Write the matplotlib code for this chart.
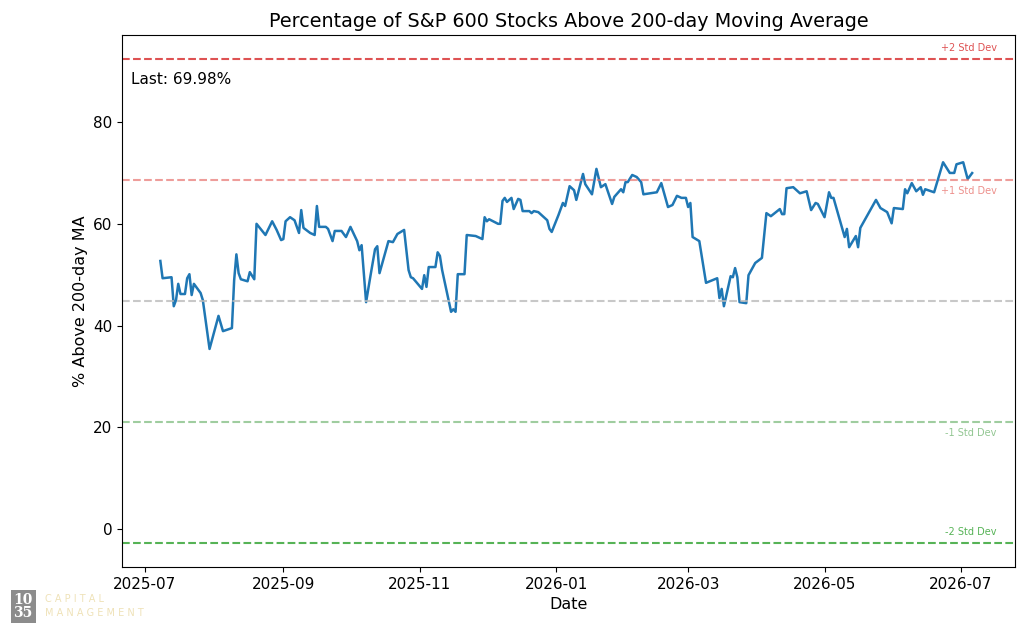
import matplotlib
matplotlib.use("Agg")
import matplotlib.pyplot as plt
import matplotlib.dates as mdates
import pandas as pd

start_date = "2025-07-01"
day_offsets = [7, 8, 12, 13, 14, 15, 16, 18, 19, 20, 21, 22, 25, 26, 29, 33, 35, 39, 40, 41,
               42, 43, 46, 47, 49, 50, 54, 57, 59, 61, 62, 63, 65, 67, 69, 70, 71, 74, 76, 77,
               78, 81, 82, 84, 85, 88, 90, 92, 95, 96, 97, 99, 101, 103, 104, 105, 109, 111, 113, 116,
               118, 119, 120, 124, 125, 126, 127, 130, 131, 132, 133, 137, 138, 139, 140, 143, 144, 148, 151, 152,
               153, 154, 158, 159, 160, 161, 162, 164, 165, 167, 168, 169, 172, 173, 174, 176, 178, 180, 181, 182,
               185, 187, 188, 190, 192, 193, 196, 197, 200, 202, 204, 206, 209, 210, 213, 214, 215, 216, 218, 220,
               222, 223, 229, 231, 234, 236, 238, 240, 242, 243, 244, 245, 248, 251, 256, 257, 258, 259, 262, 263,
               264, 265, 266, 269, 270, 273, 276, 278, 280, 284, 285, 286, 287, 290, 293, 296, 298, 300, 301, 304,
               306, 307, 308, 313, 314, 315, 318, 319, 320, 327, 329, 332, 334, 335, 339, 340, 341, 343, 345, 347,
               348, 349, 353, 357, 360, 362, 363, 366, 368, 370]
pct_above = [52.7, 49.3, 49.5, 43.8, 45.0, 48.2, 46.2, 46.2, 49.3, 50.1, 46.0, 48.2, 46.4, 45.0, 35.4, 41.9, 38.9, 39.5, 48.9, 54.0,
             50.3, 49.1, 48.7, 50.5, 49.1, 60.0, 57.8, 60.5, 58.8, 56.8, 57.0, 60.5, 61.3, 60.7, 58.2, 62.7, 59.2, 58.2, 57.8, 63.5,
             59.4, 59.4, 59.0, 56.6, 58.6, 58.6, 57.4, 59.4, 56.6, 54.8, 55.8, 44.6, 49.9, 55.0, 55.6, 50.3, 56.6, 56.4, 58.0, 58.8,
             50.9, 49.5, 49.3, 47.2, 49.9, 47.6, 51.5, 51.5, 54.4, 53.7, 50.9, 42.7, 43.2, 42.7, 50.1, 50.1, 57.8, 57.6, 57.0, 61.3,
             60.5, 60.9, 60.0, 60.0, 64.5, 65.1, 64.3, 65.1, 62.9, 64.9, 64.7, 62.5, 62.5, 62.1, 62.5, 62.3, 61.5, 60.7, 59.0, 58.4,
             61.7, 64.1, 63.5, 67.4, 66.6, 64.7, 69.8, 67.8, 65.8, 70.8, 67.2, 67.8, 63.9, 65.3, 66.8, 66.2, 68.2, 68.2, 69.6, 69.2,
             68.2, 65.8, 66.2, 68.0, 63.3, 63.7, 65.5, 65.1, 65.1, 63.3, 64.1, 57.4, 56.6, 48.4, 49.3, 45.4, 47.2, 43.8, 49.7, 49.5,
             51.3, 49.5, 44.6, 44.4, 49.9, 52.3, 53.3, 62.1, 61.5, 62.9, 61.9, 61.9, 67.0, 67.2, 66.0, 66.4, 62.7, 64.1, 63.9, 61.3,
             66.2, 65.1, 65.1, 57.4, 59.0, 55.4, 57.6, 55.4, 59.2, 64.7, 63.1, 62.3, 60.1, 63.1, 62.9, 66.8, 66.0, 68.0, 66.4, 67.2,
             65.7, 66.8, 66.2, 72.1, 70.0, 70.0, 71.7, 72.1, 68.8, 69.98]

mean_val = 44.8
std_val = 23.8
band_labels = ["+2 Std Dev", "+1 Std Dev", "-1 Std Dev", "-2 Std Dev"]
band_mults = [2, 1, -1, -2]
band_colors = ["#d62728", "#e8746f", "#77b877", "#2ca02c"]

dates = pd.to_datetime(start_date) + pd.to_timedelta(day_offsets, unit="D")

fig = plt.figure(figsize=(10.28, 6.38), dpi=100)
ax = fig.add_axes([0.119, 0.111, 0.868, 0.834])
ax.plot(dates, pct_above, color="#1f77b4", lw=1.8)

ax.axhline(mean_val, color="#bbbbbb", ls="--", lw=1.5, alpha=0.8)
trans = ax.get_yaxis_transform()
for lab, m, c in zip(band_labels, band_mults, band_colors):
    y = mean_val + m * std_val
    ax.axhline(y, color=c, ls="--", lw=1.5, alpha=0.8 if abs(m) == 2 else 0.7)
    va = "bottom" if m in (2, -2) else "top"
    off = 1.2 if va == "bottom" else -1.2
    ax.text(0.98, y + off, lab, transform=trans, ha="right", va=va, fontsize=7, color=c, alpha=0.8)

ax.text(0.01, 0.93, f"Last: {pct_above[-1]:.2f}%", transform=ax.transAxes, fontsize=11, va="top")

ax.set_xlim(pd.to_datetime(start_date) - pd.Timedelta(days=10), pd.to_datetime(start_date) + pd.Timedelta(days=389))
ax.set_ylim(-7.5, 97.1)
ax.xaxis.set_major_locator(mdates.MonthLocator(bymonth=[1, 3, 5, 7, 9, 11]))
ax.xaxis.set_major_formatter(mdates.DateFormatter("%Y-%m"))
ax.tick_params(labelsize=11)
ax.set_title("Percentage of S&P 600 Stocks Above 200-day Moving Average", fontsize=13.8)
ax.set_xlabel("Date", fontsize=11.5)
ax.set_ylabel("% Above 200-day MA", fontsize=11.5)

fig.text(0.013, 0.033, "10\n35", fontsize=10, color="white", family="DejaVu Serif", weight="bold",
         linespacing=0.9, bbox=dict(facecolor="#8c8c8c", edgecolor="none", pad=2))
fig.text(0.044, 0.035, "C A P I T A L\nM A N A G E M E N T", fontsize=7, color="#efe2b8", linespacing=1.4)

fig.savefig("out.png")
